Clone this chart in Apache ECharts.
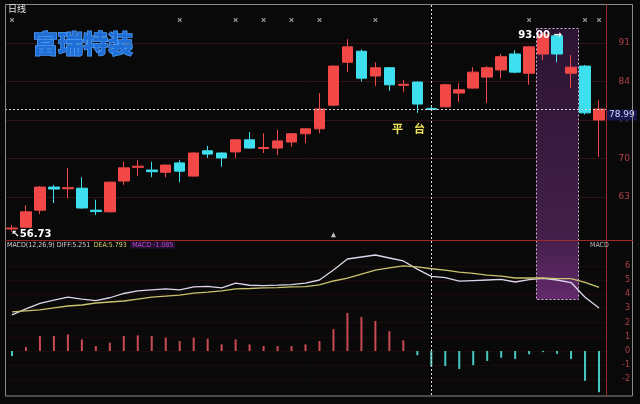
<!DOCTYPE html>
<html><head><meta charset="utf-8">
<script src="https://cdn.jsdelivr.net/npm/echarts@6/dist/echarts.min.js"></script>
<style>html,body{margin:0;padding:0;background:#0a0909;}#c{width:640px;height:404px;}</style>
</head><body><div id="c"></div>
<script>
// ---------- data ----------
const categories = ['1','2','3','4','5','6','7','8','9','10','11','12','13','14','15','16','17','18','19','20','21','22','23','24','25','26','27','28','29','30','31','32','33','34','35','36','37','38','39','40','41','42','43'];
const opens  = [57.2,57.5,60.6,64.8,64.5,64.6,60.6,60.3,65.9,68.4,67.9,67.5,69.2,66.8,71.4,71.0,71.2,73.4,71.8,71.9,73.0,74.5,75.4,79.7,87.5,89.5,85.0,86.5,83.3,83.9,79.1,79.4,81.9,82.8,84.8,86.1,89.0,85.5,89.0,92.3,85.5,86.8,77.0];
const closes = [57.35,60.3,64.8,64.45,64.7,61.0,60.35,65.7,68.3,68.6,67.6,68.8,67.7,71.0,70.8,70.1,73.4,71.9,72.0,73.2,74.5,75.4,79.0,86.8,90.3,84.6,86.5,83.4,83.5,79.9,78.9,83.4,82.5,85.7,86.5,88.5,85.7,90.3,92.5,89.0,86.6,78.3,78.99];
const lows   = [56.73,57.3,59.9,61.9,62.8,60.9,59.7,60.2,65.2,66.8,66.6,66.6,65.7,66.7,70.1,68.5,70.1,71.8,71.0,70.6,72.1,72.8,74.6,79.5,85.7,84.0,83.2,82.3,82.1,78.3,78.6,79.3,80.3,82.7,80.1,84.6,85.5,83.4,87.9,87.5,82.8,78.0,70.3];
const highs  = [57.9,61.5,65.0,65.2,68.3,66.6,62.5,65.8,69.4,69.7,69.4,68.9,69.7,71.1,72.3,71.1,73.5,74.8,74.6,75.2,74.6,75.5,81.9,86.9,91.7,89.8,87.5,86.6,84.3,84.0,79.4,83.6,83.7,86.6,86.8,89.0,89.7,90.5,93.0,92.7,88.8,87.0,80.6];
const diff = [2.54,2.96,3.35,3.59,3.80,3.66,3.55,3.75,4.05,4.23,4.30,4.37,4.30,4.51,4.55,4.44,4.78,4.63,4.61,4.64,4.68,4.78,5.00,5.70,6.48,6.62,6.76,6.55,6.34,5.77,5.251,5.17,4.92,4.96,5.00,5.04,4.86,5.03,5.12,5.00,4.82,3.79,3.03];
const dea  = [2.75,2.82,2.89,3.03,3.17,3.24,3.38,3.45,3.52,3.66,3.80,3.87,3.94,4.08,4.15,4.23,4.37,4.40,4.44,4.47,4.51,4.54,4.65,4.93,5.14,5.42,5.70,5.85,5.99,5.92,5.793,5.70,5.56,5.46,5.35,5.28,5.14,5.14,5.15,5.10,5.10,4.84,4.48];
const macdHist = [-0.35,0.28,1.06,1.06,1.17,0.82,0.35,0.59,1.06,1.10,1.06,0.94,0.70,0.94,0.87,0.47,0.82,0.47,0.35,0.35,0.35,0.47,0.70,1.54,2.68,2.40,2.12,1.40,0.75,-0.30,-1.085,-1.06,-1.27,-1.00,-0.70,-0.47,-0.56,-0.23,-0.08,-0.20,-0.56,-2.10,-2.90];
const priceTicks = [63,70,77,84,91];
const macdTicks = [6,5,4,3,2,1,0,-1,-2];
const priceRange = [55.182, 97.909];
const macdRange = [-3.169, 7.817];
const lastPrice = 78.99;
const crossIndex = 30;
const highlightRange = [38, 40];
const highlightPriceTop = 93.7;
const highlightMacdBottom = 3.66;
const topMarkerIdx = [0,12,16,18,20,22,26,37,41,42];
const topMarkerLevel = 95.2;
const triangleMarkerIdx = [23];
const triangleLevel = 56.15;

// ---------- chart ----------
const RED = '#f24848', CYAN = '#3ee0ef';
const chart = echarts.init(document.getElementById('c'), null, {renderer:'canvas'});
const kData = opens.map((o,i)=>[o, closes[i], lows[i], highs[i]]);
const gridLeft = 5, gridRight = 34;

const option = {
  animation:false,
  backgroundColor:'#0a0909',
  grid:[
    {left:gridLeft, right:gridRight, top:5, height:235},
    {left:gridLeft, right:gridRight, top:240, height:156}
  ],
  xAxis:[
    {type:'category', gridIndex:0, data:categories, boundaryGap:true, axisLine:{show:false}, axisTick:{show:false}, axisLabel:{show:false}, splitLine:{show:false}},
    {type:'category', gridIndex:1, data:categories, boundaryGap:true, axisLine:{show:false}, axisTick:{show:false}, axisLabel:{show:false}, splitLine:{show:false}}
  ],
  yAxis:[
    {type:'value', gridIndex:0, position:'right', min:priceRange[0], max:priceRange[1], scale:true,
     axisLine:{show:false}, axisTick:{show:false, customValues:priceTicks},
     axisLabel:{customValues:priceTicks, color:'#b04048', fontSize:9, fontFamily:'DejaVu Sans', align:'right', margin:24},
     splitLine:{show:true, lineStyle:{color:'#301212', width:1}}},
    {type:'value', gridIndex:1, position:'right', min:macdRange[0], max:macdRange[1],
     axisLine:{show:false}, axisTick:{show:false, customValues:macdTicks},
     axisLabel:{customValues:macdTicks, color:'#b04048', fontSize:8, fontFamily:'DejaVu Sans', align:'right', margin:24},
     splitLine:{show:true, lineStyle:{color:'#1c0c0c', width:1}}}
  ],
  series:[
    {type:'candlestick', xAxisIndex:0, yAxisIndex:0, data:kData, barWidth:11, z:3,
     itemStyle:{color:RED, color0:CYAN, borderColor:RED, borderColor0:CYAN, borderWidth:1},
     markLine:{symbol:'none', silent:true, animation:false,
       lineStyle:{color:'#d8d8d8', type:[2,2], width:1},
       label:{position:'end', distance:1, formatter:()=>lastPrice.toFixed(2), color:'#d6d6ff', backgroundColor:'#17174e', padding:[1,2,1,2], fontSize:9, fontFamily:'DejaVu Sans', offset:[0,6]},
       data:[{yAxis:lastPrice}]},
     markPoint:{symbol:'circle', symbolSize:1, itemStyle:{color:'rgba(0,0,0,0)'}, silent:true,
       data:[
         {type:'min', valueDim:'lowest', label:{position:'right', distance:0, offset:[-1,3], formatter:p=>'↖'+p.value.toFixed(2), color:'#ffffff', fontWeight:'bold', fontSize:10, fontFamily:'DejaVu Sans'}},
         {type:'max', valueDim:'highest', label:{position:'inside', offset:[-3,3], formatter:p=>p.value.toFixed(2)+' →', color:'#ffffff', fontWeight:'bold', fontSize:10, fontFamily:'DejaVu Sans'}}
       ]}
    },
    {type:'scatter', xAxisIndex:0, yAxisIndex:0, silent:true, z:4,
     symbol:'path://M0 0L2 0L5 3L8 0L10 0L10 2L7 5L10 8L10 10L8 10L5 7L2 10L0 10L0 8L3 5L0 2Z', symbolSize:4,
     itemStyle:{color:'#b8b8b8'}, data:topMarkerIdx.map(i=>[i, topMarkerLevel])},
    {type:'scatter', xAxisIndex:0, yAxisIndex:0, silent:true, z:4, symbol:'triangle', symbolSize:5,
     itemStyle:{color:'#f0f0f0'}, data:triangleMarkerIdx.map(i=>[i, triangleLevel])},
    {type:'bar', xAxisIndex:1, yAxisIndex:1, barWidth:2, z:3,
     data:macdHist.map(v=>({value:v, itemStyle:{color: v>=0 ? '#c84a52' : '#46c8c0'}}))},
    {type:'line', xAxisIndex:1, yAxisIndex:1, data:diff, symbol:'none', z:4, lineStyle:{color:'#dcd6ea', width:1.3}},
    {type:'line', xAxisIndex:1, yAxisIndex:1, data:dea, symbol:'none', z:4, lineStyle:{color:'#c9c36e', width:1.3}}
  ]
};
chart.setOption(option);

// ---------- overlays positioned through the axes ----------
const px = i => chart.convertToPixel({xAxisIndex:0}, i);
const band = px(1) - px(0);
const hx0 = px(highlightRange[0]) - band/2, hx1 = px(highlightRange[1]) + band/2;
const hy0 = chart.convertToPixel({yAxisIndex:0}, highlightPriceTop);
const hy1 = chart.convertToPixel({yAxisIndex:1}, highlightMacdBottom);
const cx = Math.round(px(crossIndex)) + 0.5;
const topY = chart.convertToPixel({yAxisIndex:0}, priceRange[1]);
const botY = chart.convertToPixel({yAxisIndex:1}, macdRange[0]);
const rightX = chart.getWidth() - gridRight;
const legendFont = '7px "Liberation Sans Narrow", "DejaVu Sans Condensed", sans-serif';

chart.setOption({graphic:[
  {type:'rect', z:0, silent:true, shape:{x:Math.round(hx0)+0.5, y:Math.round(hy0)+0.5, width:Math.round(hx1-hx0), height:Math.round(hy1-hy0)},
   style:{fill:new echarts.graphic.LinearGradient(0,0,0,1,[{offset:0,color:'#2c1432'},{offset:0.75,color:'#421f48'},{offset:1,color:'#62296a'}]), stroke:'#cbb4cf', lineWidth:1, lineDash:[2,2]}},
  // frame and dividers
  {type:'rect', z:10, silent:true, shape:{x:5.5, y:4.5, width:627, height:391.5}, style:{fill:'none', stroke:'#8a8a8a', lineWidth:1}},
  {type:'line', z:10, silent:true, shape:{x1:5, y1:240.5, x2:633, y2:240.5}, style:{stroke:'#a02a2a', lineWidth:1}},
  {type:'line', z:10, silent:true, shape:{x1:rightX+0.5, y1:4.5, x2:rightX+0.5, y2:396}, style:{stroke:'#9a2a2a', lineWidth:1}},
  // crosshair
  {type:'line', z:20, silent:true, shape:{x1:cx, y1:topY, x2:cx, y2:botY}, style:{stroke:'#dddddd', lineWidth:1, lineDash:[2,2]}},
  // texts
  {type:'text', z:20, silent:true, x:8, y:9, style:{text:'日线', fill:'#e6e6e6', font:'9px "Noto Sans CJK SC"', verticalAlign:'middle'}},
  {type:'text', z:20, silent:true, x:33, y:43, style:{text:'富瑞特装', fill:'#1f6fd6', stroke:'#4f9cf5', lineWidth:1.5, font:'900 25px "Noto Sans CJK SC"', verticalAlign:'middle'}},
  {type:'text', z:20, silent:true, x:392, y:129, style:{text:'平　台', fill:'#f2e65a', font:'bold 11px "Noto Sans CJK SC"', verticalAlign:'middle'}},
  {type:'text', z:20, silent:true, x:7, y:245, style:{
     text:'{a|MACD(12,26,9) DIFF:'+diff[crossIndex].toFixed(3)+'} {b|DEA:'+dea[crossIndex].toFixed(3)+'} {c|MACD -'+Math.abs(macdHist[crossIndex]).toFixed(3)+'}',
     verticalAlign:'middle',
     rich:{a:{fill:'#cfcfcf', font:legendFont},
           b:{fill:'#d8d070', font:legendFont},
           c:{fill:'#b050d0', backgroundColor:'#2a0f34', font:legendFont, padding:[0,2]}}}},
  {type:'text', z:20, silent:true, x:590, y:245, style:{text:'MACD', fill:'#b8b8b8', font:'7px "DejaVu Sans Condensed"', verticalAlign:'middle'}}
]});
</script>
</body></html>
